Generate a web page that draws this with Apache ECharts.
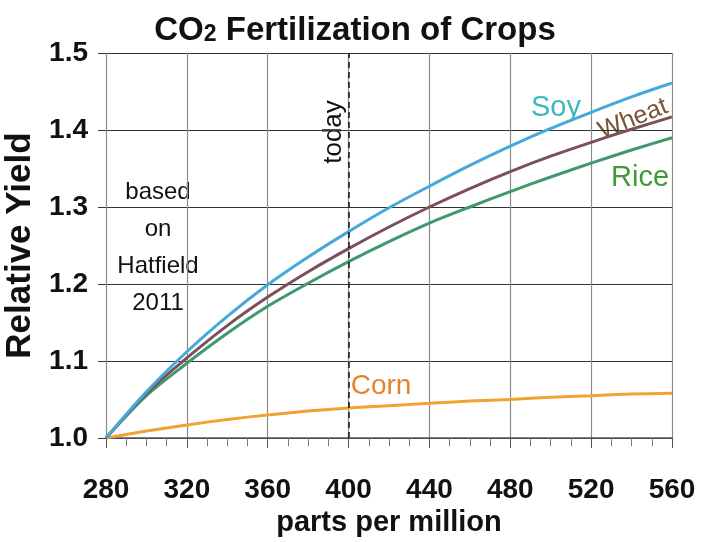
<!DOCTYPE html>
<html>
<head>
<meta charset="utf-8">
<script src="https://cdn.jsdelivr.net/npm/echarts@6/dist/echarts.min.js"></script>
<style>
  html, body { margin: 0; padding: 0; background: #fff; }
  #main { width: 710px; height: 542px; }
</style>
</head>
<body>
<div id="main"></div>
<script>
// CO2 concentration (ppm) and relative yield per crop
var ppm   = [280, 300, 320, 340, 360, 380, 400, 420, 440, 460, 480, 500, 520, 540, 560];
var soy   = [1.0, 1.060, 1.112, 1.158, 1.199, 1.235, 1.268, 1.299, 1.327, 1.354, 1.379, 1.402, 1.423, 1.443, 1.461];
var wheat = [1.0, 1.058, 1.104, 1.146, 1.183, 1.216, 1.246, 1.274, 1.300, 1.324, 1.346, 1.366, 1.384, 1.401, 1.417];
var rice  = [1.0, 1.055, 1.097, 1.136, 1.171, 1.201, 1.229, 1.255, 1.279, 1.300, 1.320, 1.339, 1.357, 1.374, 1.390];
var corn  = [1.0, 1.009, 1.017, 1.024, 1.030, 1.035, 1.039, 1.042, 1.045, 1.048, 1.050, 1.053, 1.055, 1.057, 1.058];
var today = 400;

var font = '"Liberation Sans", Arial, sans-serif';

function pairs(ys) {
    return ppm.map(function (x, i) { return [x, ys[i]]; });
}

function crop(name, ys, color) {
    return {
        name: name,
        type: 'line',
        data: pairs(ys),
        smooth: 0.3,
        symbol: 'none',
        lineStyle: { color: color, width: 3 }
    };
}

var series = [
    crop('Corn', corn, '#f0a32e'),
    crop('Rice', rice, '#3e9a6c'),
    crop('Wheat', wheat, '#7b4f5c'),
    crop('Soy', soy, '#45aadb')
];

// dashed "today" line
series[0].markLine = {
    silent: true,
    symbol: 'none',
    label: { show: false },
    lineStyle: { color: '#111', type: [6, 4], width: 1.5 },
    data: [{ xAxis: today }]
};

function note(text, x, y, size, color, rot) {
    return {
        type: 'text', x: x, y: y, rotation: rot || 0,
        style: { text: text, align: 'center', verticalAlign: 'middle', font: size + 'px ' + font, fill: color }
    };
}

var option = {
    backgroundColor: '#fff',
    animation: false,
    title: {
        text: 'CO{sub|2} Fertilization of Crops',
        left: 'center',
        top: 9,
        textStyle: {
            fontFamily: font,
            fontSize: 33,
            fontWeight: 'bold',
            color: '#111',
            rich: {
                sub: { fontFamily: font, fontSize: 23, fontWeight: 'bold', color: '#111', padding: [9, 0, 0, 0] }
            }
        }
    },
    grid: { left: 106, right: 38, top: 53, bottom: 104, outerBoundsMode: 'none' },
    xAxis: {
        type: 'value',
        min: 280,
        max: 560,
        interval: 40,
        name: 'parts per million',
        nameLocation: 'middle',
        nameGap: 68,
        nameTextStyle: { fontFamily: font, fontSize: 29, fontWeight: 'bold', color: '#111' },
        axisLine: { show: true, lineStyle: { color: '#555', width: 1.5 } },
        axisTick: { show: true, length: 10, lineStyle: { color: '#555' } },
        minorTick: { show: true, splitNumber: 4, length: 8, lineStyle: { color: '#777' } },
        splitLine: { show: true, lineStyle: { color: '#8c8c8c', width: 1.2 } },
        axisLabel: { margin: 38, fontFamily: font, fontSize: 28, fontWeight: 'bold', color: '#111' }
    },
    yAxis: {
        type: 'value',
        min: 1.0,
        max: 1.5,
        interval: 0.1,
        name: 'Relative Yield',
        nameLocation: 'middle',
        nameGap: 62,
        nameTextStyle: { fontFamily: font, fontSize: 35, fontWeight: 'bold', color: '#111' },
        axisLine: { show: false },
        axisTick: { show: true, length: 8, lineStyle: { color: '#333' } },
        splitLine: { show: true, lineStyle: { color: '#333', width: 1.2 } },
        axisLabel: {
            margin: 18,
            fontFamily: font,
            fontSize: 28,
            fontWeight: 'bold',
            color: '#111',
            formatter: function (v) { return v.toFixed(1); }
        }
    },
    graphic: [
        note('based', 158, 192, 24, '#111'),
        note('on', 158, 229, 24, '#111'),
        note('Hatfield', 158, 266, 24, '#111'),
        note('2011', 158, 303, 24, '#111'),
        note('today', 334, 132, 26, '#111', Math.PI / 2),
        note('Soy', 556, 108, 29, '#3fb8bd'),
        note('Wheat', 633, 119, 25, '#7a5234', 0.38),
        note('Rice', 640, 178, 29, '#3f9a3c'),
        note('Corn', 381, 386, 28, '#e5822c')
    ],
    series: series
};

var myChart = echarts.init(document.getElementById('main'));
myChart.setOption(option);
</script>
</body>
</html>
